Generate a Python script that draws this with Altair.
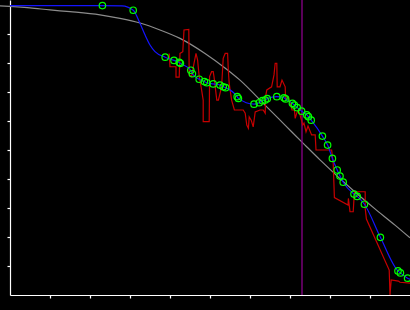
import altair as alt
import pandas as pd

# Smooth gray reference curve
gray_x = [-0.25, 0.5, 1.0, 1.5, 2.25, 2.75, 3.25, 3.75, 4.25, 4.875, 5.375, 5.75,
          6.375, 6.875, 7.375, 7.75, 8.625, 9.125, 9.625, 10.0]
gray_y = [9.97, 9.90, 9.83, 9.77, 9.66, 9.54, 9.38, 9.14, 8.85, 8.33, 7.83, 7.41,
          6.55, 5.86, 5.17, 4.66, 3.55, 2.97, 2.41, 1.97]

# Green circle markers
circ_x = [2.31, 3.08, 3.88, 4.10, 4.23, 4.26, 4.52, 4.56, 4.73, 4.86, 4.92, 5.08,
          5.25, 5.33, 5.39, 5.68, 5.71, 6.10, 6.23, 6.31, 6.38, 6.43, 6.67, 6.85,
          6.89, 7.06, 7.11, 7.18, 7.29, 7.42, 7.46, 7.53, 7.81, 7.94, 8.06, 8.18,
          8.25, 8.33, 8.60, 8.68, 8.86, 9.26, 9.70, 9.76, 9.94]
circ_y = [9.98, 9.82, 8.20, 8.09, 8.02, 7.99, 7.75, 7.63, 7.44, 7.36, 7.32, 7.28,
          7.24, 7.18, 7.15, 6.84, 6.78, 6.58, 6.63, 6.70, 6.72, 6.77, 6.84, 6.80,
          6.76, 6.61, 6.55, 6.46, 6.34, 6.21, 6.15, 6.03, 5.48, 5.17, 4.71, 4.31,
          4.10, 3.89, 3.48, 3.40, 3.13, 1.99, 0.83, 0.76, 0.58]

# Blue fitted line (passes through the markers)
blue_x = [0.0, 2.31, 2.8, 3.08, 3.25, 3.375, 3.5, 3.625] + circ_x[2:] + [10.05]
blue_y = [9.98, 9.98, 9.97, 9.82, 9.37, 8.97, 8.62, 8.39] + circ_y[2:] + [0.52]

# Red raw signal
red_x = [3.98, 4.00, 4.15, 4.15, 4.23, 4.25, 4.32, 4.35, 4.47, 4.48, 4.54, 4.60,
         4.65, 4.69, 4.73, 4.78, 4.83, 4.83, 4.98, 4.99, 5.04, 5.08, 5.10, 5.17,
         5.21, 5.29, 5.33, 5.38, 5.44, 5.46, 5.48, 5.54, 5.61, 5.83, 5.88, 5.92,
         5.96, 5.98, 6.03, 6.08, 6.13, 6.25, 6.33, 6.38, 6.39, 6.42, 6.54, 6.60,
         6.63, 6.67, 6.68, 6.75, 6.80, 6.88, 6.89, 6.95, 7.00, 7.05, 7.11, 7.13,
         7.17, 7.21, 7.25, 7.32, 7.35, 7.40, 7.45, 7.54, 7.63, 7.65, 8.04, 8.08,
         8.11, 8.45, 8.46, 8.50, 8.58, 8.61, 8.88, 8.88, 8.91, 9.48, 9.50, 9.53,
         9.71, 9.75, 10.05]
red_y = [8.33, 7.87, 7.87, 7.51, 7.51, 8.33, 8.39, 9.14, 9.16, 7.59, 7.53, 7.99,
         8.33, 8.10, 7.53, 7.16, 6.72, 5.98, 5.98, 7.53, 7.70, 7.70, 7.53, 6.72,
         6.72, 7.18, 8.16, 8.33, 8.33, 7.70, 7.30, 6.72, 6.38, 6.38, 6.27, 5.86,
         5.75, 6.14, 6.03, 5.80, 6.31, 6.38, 6.38, 6.27, 6.84, 7.07, 7.18, 7.59,
         7.99, 7.99, 7.18, 7.18, 7.41, 7.18, 6.72, 6.83, 6.62, 6.38, 6.38, 6.09,
         6.28, 6.38, 6.21, 5.86, 5.93, 5.63, 5.83, 5.52, 5.52, 5.00, 5.00, 4.55,
         3.36, 3.10, 3.33, 2.87, 2.87, 3.56, 3.56, 2.99, 2.62, 0.86, 0.00, 0.52,
         0.48, 0.44, 0.40]

marker_x = [7.3]
x_ticks = [1, 2, 3, 4, 5, 6, 7, 8, 9]
y_ticks = [1, 2, 3, 4, 5, 6, 7, 8, 9]

gray_df = pd.DataFrame({"x": gray_x, "y": gray_y})
blue_df = pd.DataFrame({"x": blue_x, "y": blue_y})
circ_df = pd.DataFrame({"x": circ_x, "y": circ_y})
red_df = pd.DataFrame({"x": red_x, "y": red_y, "i": list(range(len(red_x)))})
mark_df = pd.DataFrame({"x": marker_x})

xs = alt.Scale(domain=[0, 10], nice=False, zero=False)
ys = alt.Scale(domain=[0, 295 / 29], nice=False, zero=False)

x_axis = alt.Axis(values=x_ticks, tickCount=20, labels=False, title=None, grid=False,
                  domainColor="white", domainWidth=1.2, tickColor="white",
                  tickSize=3, tickWidth=1.2)
y_axis = alt.Axis(values=y_ticks, tickCount=20, labels=False, title=None, grid=False,
                  domainColor="white", domainWidth=1.2, tickColor="white",
                  tickSize=3, tickWidth=1.2)

gray = alt.Chart(gray_df).mark_line(color="#8c8c8c", strokeWidth=1.2,
                                     interpolate="monotone", clip=False).encode(
    x=alt.X("x:Q", scale=xs, axis=x_axis),
    y=alt.Y("y:Q", scale=ys, axis=y_axis),
)

red = alt.Chart(red_df).mark_line(color="#c80000", strokeWidth=1.2, clip=False).encode(
    x=alt.X("x:Q", scale=xs),
    y=alt.Y("y:Q", scale=ys),
    order="i:Q",
)

blue = alt.Chart(blue_df).mark_line(color="#1414ff", strokeWidth=1.2,
                                     interpolate="monotone", clip=False).encode(
    x=alt.X("x:Q", scale=xs),
    y=alt.Y("y:Q", scale=ys),
)

circles = alt.Chart(circ_df).mark_point(shape="circle", filled=False, color="#00ff00",
                                         size=42, strokeWidth=1.2, opacity=1,
                                         clip=False).encode(
    x=alt.X("x:Q", scale=xs),
    y=alt.Y("y:Q", scale=ys),
)

vline = alt.Chart(mark_df).mark_rule(color="#8a008a", strokeWidth=1.3).encode(
    x=alt.X("x:Q", scale=xs),
    y=alt.value(0),
    y2=alt.value(295),
)

chart = alt.layer(gray, vline, red, blue, circles).properties(
    width=400, height=295,
    background="black",
    padding={"left": 10, "top": 0, "right": 0, "bottom": 15},
    autosize=alt.AutoSizeParams(type="none"),
).configure_view(stroke=None)

chart.save("out.html", embed_options={"renderer": "svg", "actions": False})
